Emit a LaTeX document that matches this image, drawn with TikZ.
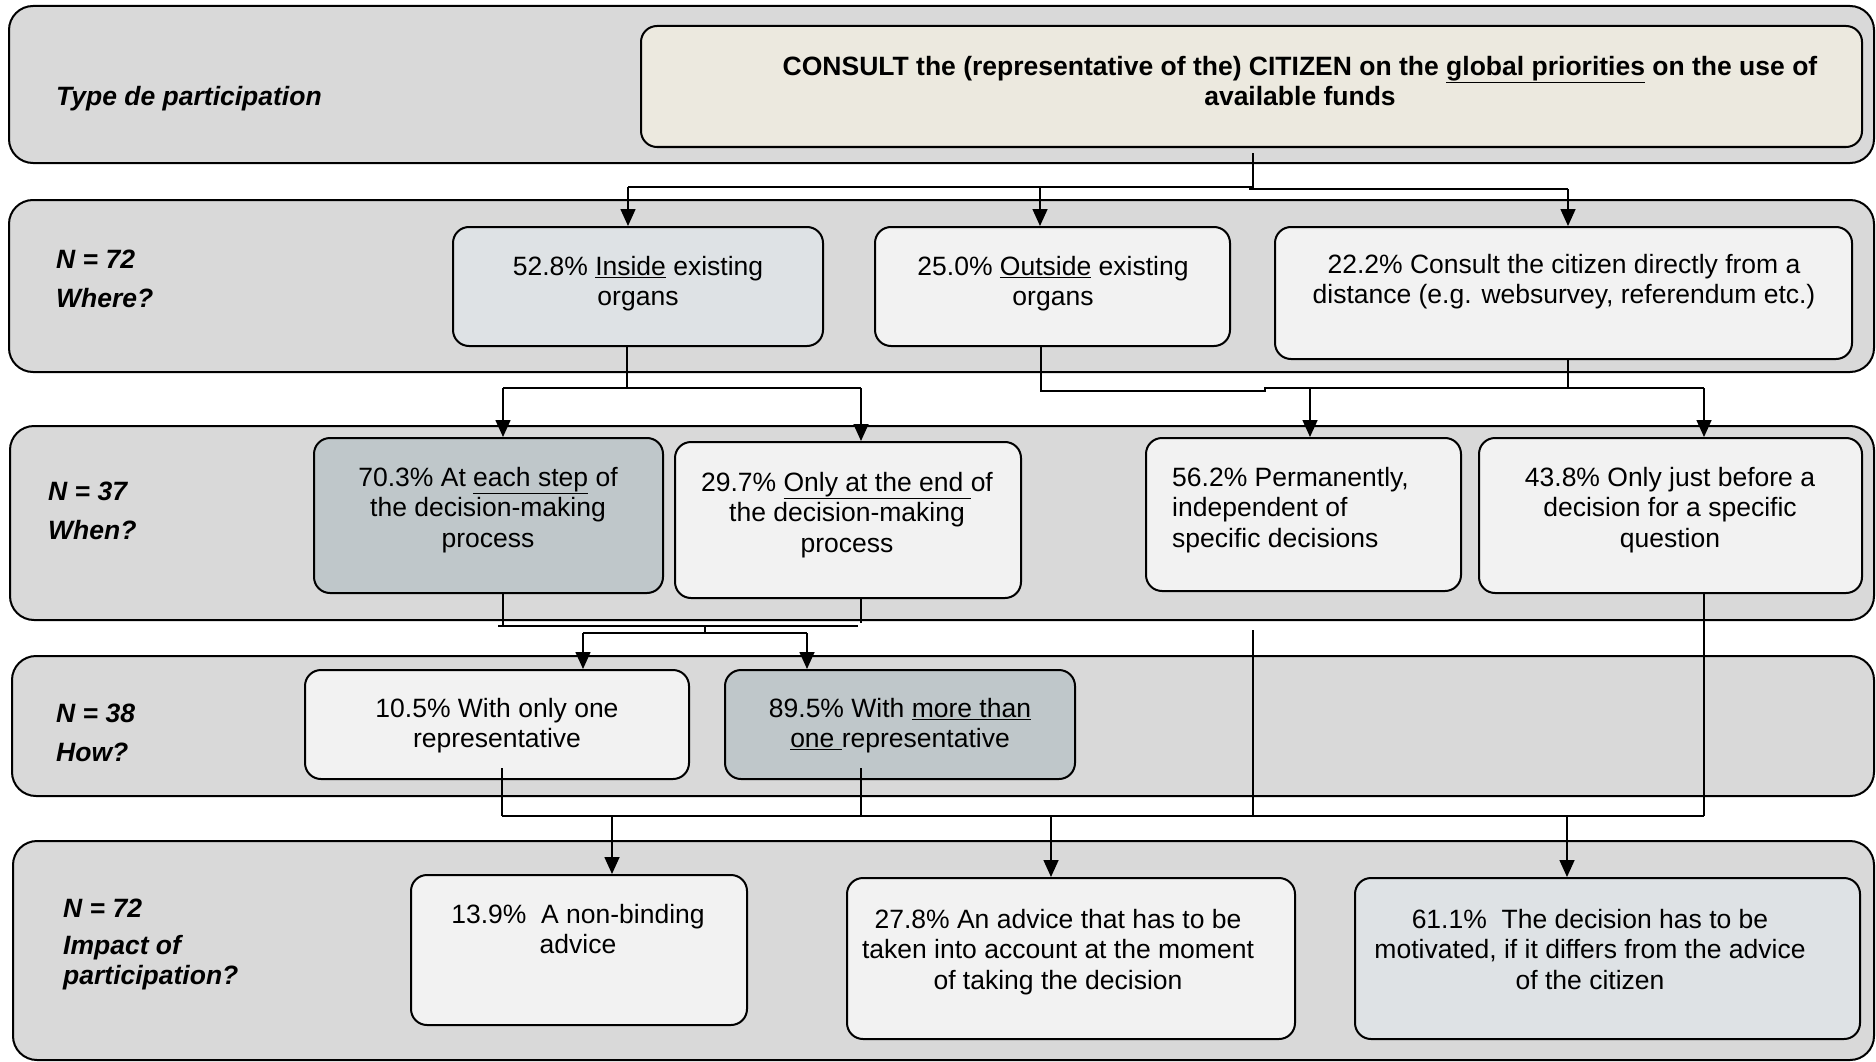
\documentclass[tikz,border=0pt]{standalone}
\usepackage{fontspec}
\setmainfont{Liberation Sans}
\usetikzlibrary{arrows.meta}
\definecolor{bandgray}{HTML}{D9D9D9}
\definecolor{cream}{HTML}{ECE9DF}
\definecolor{lightbox}{HTML}{F2F2F2}
\definecolor{bluegray}{HTML}{DEE2E5}
\definecolor{darkbox}{HTML}{BFC7CA}
\newcommand\diafont{\fontsize{26.5}{30.5}\selectfont}
\tikzset{
  band/.style={draw=black, line width=2pt, fill=bandgray, rounded corners=24pt, inner sep=0pt},
  box/.style={draw=black, line width=2pt, rounded corners=16pt, inner sep=0pt},
  txt/.style={font=\diafont, align=center, inner sep=0pt, anchor=north},
  lab/.style={font=\diafont\bfseries\itshape, align=left, inner sep=0pt, anchor=north west},
  conn/.style={line width=1.6pt},
  arr/.style={line width=1.6pt, -{Triangle[width=15pt,length=17pt]}},
}
\begin{document}
\begin{tikzpicture}[x=1pt,y=-1pt]
\useasboundingbox (0,0) rectangle (1876,1062);

% horizontal bands
\node[band, minimum width=1865pt, minimum height=157pt] (band1) at (941.5,84.5) {};
\node[band, minimum width=1865pt, minimum height=172pt] (band2) at (941.5,286) {};
\node[band, minimum width=1864pt, minimum height=194pt] (band3) at (942,523) {};
\node[band, minimum width=1862pt, minimum height=140pt] (band4) at (943,726) {};
\node[band, minimum width=1861pt, minimum height=219pt] (band5) at (943.5,950.5) {};

% band labels
\node[lab] (l1) at (56,86) {Type de participation};
\node[lab] (l2) at (56,250) {N = 72\\[8pt]Where?};
\node[lab] (l3) at (48,482) {N = 37\\[8pt]When?};
\node[lab] (l4) at (56,704) {N = 38\\[8pt]How?};
\node[lab] (l5) at (63,899) {N = 72\\[6pt]Impact of\\participation?};

% boxes
\node[box, fill=cream, minimum width=1221pt, minimum height=121pt] (consult) at (1251.5,86.5) {};
\node[txt, font=\diafont\bfseries] (tc) at (1300,56) {CONSULT the (representative of the) CITIZEN on the \underline{global priorities} on the use of\\available funds};

\node[box, fill=bluegray, minimum width=370pt, minimum height=119pt] (w1) at (638,286.5) {};
\node[txt] (tw1) at (638,256) {52.8\% \underline{Inside} existing\\organs};
\node[box, fill=lightbox, minimum width=355pt, minimum height=119pt] (w2) at (1052.5,286.5) {};
\node[txt] (tw2) at (1053,256) {25.0\% \underline{Outside} existing\\organs};
\node[box, fill=lightbox, minimum width=577pt, minimum height=132pt] (w3) at (1563.5,293) {};
\node[txt] (tw3) at (1564,254) {22.2\% Consult the citizen directly from a\\distance (e.g. websurvey, referendum etc.)};

\node[box, fill=darkbox, minimum width=349pt, minimum height=155pt] (t1) at (488.5,515.5) {};
\node[txt] (tt1) at (488,467) {70.3\% At \underline{each step} of\\the decision-making\\process};
\node[box, fill=lightbox, minimum width=346pt, minimum height=156pt] (t2) at (848,520) {};
\node[txt] (tt2) at (847,472) {29.7\% \underline{Only at the end\ }of\\the decision-making\\process};
\node[box, fill=lightbox, minimum width=315pt, minimum height=153pt] (t3) at (1303.5,514.5) {};
\node[txt, align=left, anchor=north west] (tt3) at (1172,467) {56.2\% Permanently,\\independent of\\specific decisions};
\node[box, fill=lightbox, minimum width=383pt, minimum height=155pt] (t4) at (1670.5,515.5) {};
\node[txt] (tt4) at (1670,467) {43.8\% Only just before a\\decision for a specific\\question};

\node[box, fill=lightbox, minimum width=384pt, minimum height=109pt] (h1) at (497,724.5) {};
\node[txt] (th1) at (497,698) {10.5\% With only one\\representative};
\node[box, fill=darkbox, minimum width=350pt, minimum height=109pt] (h2) at (900,724.5) {};
\node[txt] (th2) at (900,698) {89.5\% With \underline{more than}\\\underline{one\ }representative};

\node[box, fill=lightbox, minimum width=336pt, minimum height=150pt] (i1) at (579,950) {};
\node[txt] (ti1) at (578,904) {13.9\%\ \ A non-binding\\advice};
\node[box, fill=lightbox, minimum width=448pt, minimum height=161pt] (i2) at (1071,958.5) {};
\node[txt] (ti2) at (1058,909) {27.8\% An advice that has to be\\taken into account at the moment\\of taking the decision};
\node[box, fill=bluegray, minimum width=505pt, minimum height=161pt] (i3) at (1607.5,958.5) {};
\node[txt] (ti3) at (1590,909) {61.1\%\ \ The decision has to be\\motivated, if it differs from the advice\\of the citizen};

% connectors: type -> where
\coordinate (s0) at (1253,153);
\coordinate (s1) at (1253,187);
\coordinate (a1) at (628,187);
\coordinate (a2) at (1040,187);
\coordinate (s2) at (1249,189);
\coordinate (a3) at (1568,189);
\draw[conn] (s0) -- (s1) -- (a1);
\draw[conn] (s2) -- (a3);
\draw[arr] (a1) -- (a1 |- w1.north);
\draw[arr] (a2) -- (a2 |- w2.north);
\draw[arr] (a3) -- (a3 |- w3.north);

% connectors: where -> when
\coordinate (b0) at (627,388);
\coordinate (b1) at (503,388);
\coordinate (b2) at (861,388);
\draw[conn] (b0 |- w1.south) -- (b0);
\draw[conn] (b1) -- (b2);
\draw[arr] (b1) -- (b1 |- t1.north);
\draw[arr] (b2) -- (b2 |- t2.north);

\coordinate (c0) at (1041,391);
\coordinate (c1) at (1265,391);
\coordinate (c2) at (1265,388);
\coordinate (c3) at (1310,388);
\coordinate (c4) at (1568,388);
\coordinate (c5) at (1704,388);
\draw[conn] (c0 |- w2.south) -- (c0) -- (c1) -- (c2) -- (c5);
\draw[conn] (c4 |- w3.south) -- (c4);
\draw[arr] (c3) -- (c3 |- t3.north);
\draw[arr] (c5) -- (c5 |- t4.north);

% connectors: when -> how
\coordinate (d1) at (503,626);
\coordinate (d2) at (861,623);
\coordinate (d3) at (498,626);
\coordinate (d4) at (858,626);
\coordinate (d5) at (705,626);
\coordinate (d6) at (705,633);
\coordinate (e1) at (583,633);
\coordinate (e2) at (807,633);
\draw[conn] (d1 |- t1.south) -- (d1);
\draw[conn] (d2 |- t2.south) -- (d2);
\draw[conn] (d3) -- (d4);
\draw[conn] (d5) -- (d6);
\draw[conn] (e1) -- (e2);
\draw[arr] (e1) -- (e1 |- h1.north);
\draw[arr] (e2) -- (e2 |- h2.north);

% connectors: into impact
\coordinate (f0) at (1253,630);
\coordinate (f1) at (1253,816);
\coordinate (f2) at (1704,816);
\coordinate (f3) at (502,768);
\coordinate (f4) at (502,816);
\coordinate (f5) at (861,768);
\coordinate (f6) at (861,816);
\draw[conn] (f0) -- (f1);
\draw[conn] (f2 |- t4.south) -- (f2);
\draw[conn] (f3) -- (f4);
\draw[conn] (f5) -- (f6);
\draw[conn] (f4) -- (f2);
\coordinate (g1) at (612,816);
\coordinate (g2) at (1051,816);
\coordinate (g3) at (1567,816);
\draw[arr] (g1) -- (g1 |- i1.north);
\draw[arr] (g2) -- (g2 |- i2.north);
\draw[arr] (g3) -- (g3 |- i3.north);
\end{tikzpicture}
\end{document}
